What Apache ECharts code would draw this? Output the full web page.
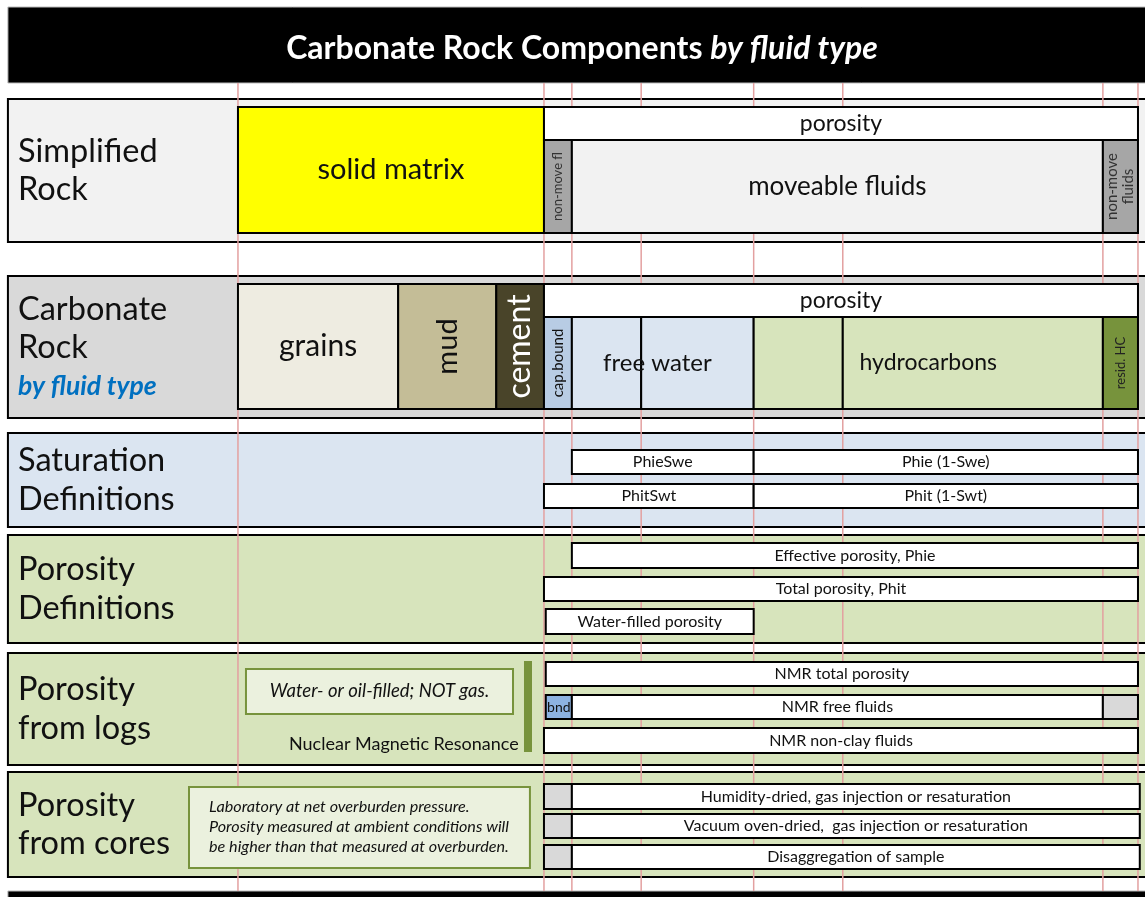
<!DOCTYPE html>
<html><head><meta charset="utf-8">
<script src="https://cdn.jsdelivr.net/npm/echarts@6/dist/echarts.min.js"></script>
<style>html,body{margin:0;padding:0;background:#fff}#c{width:1145px;height:897px}</style>
</head><body><div id="c"></div>
<script>
// ================= DATA =================
// Volume boundaries, % of bulk rock volume (pink guide lines)
const guideBoundaries = [0, 34, 37.1, 44.8, 57.3, 67.2, 96.1, 100];

const titleMain = 'Carbonate Rock Components';
const titleItalic = 'by fluid type';

const rowTitles = [
  ['Simplified', 'Rock'],
  ['Carbonate', 'Rock'],
  ['Saturation', 'Definitions'],
  ['Porosity', 'Definitions'],
  ['Porosity', 'from logs'],
  ['Porosity', 'from cores']
];
const rowSubtitle = 'by fluid type';

// [label, from %, to %, lane, kind]
const simplifiedRock = [
  ['solid matrix', 0, 34, 'r1full', 'matrix'],
  ['porosity', 34, 100, 'r1top', 'porosity'],
  ['non-move fl', 34, 37.1, 'r1bot', 'nonmove'],
  ['moveable fluids', 37.1, 96.1, 'r1bot', 'moveable'],
  ['non-move\nfluids', 96.1, 100, 'r1bot', 'nonmove2']
];
const carbonateRock = [
  ['grains', 0, 17.8, 'r2full', 'grains'],
  ['mud', 17.8, 28.7, 'r2full', 'mud'],
  ['cement', 28.7, 34, 'r2full', 'cement'],
  ['porosity', 34, 100, 'r2top', 'porosity'],
  ['cap.bound', 34, 37.1, 'r2bot', 'bound'],
  ['', 37.1, 44.8, 'r2bot', 'water'],
  ['', 44.8, 57.3, 'r2bot', 'water'],
  ['', 57.3, 67.2, 'r2bot', 'hydro'],
  ['', 67.2, 96.1, 'r2bot', 'hydro'],
  ['resid. HC', 96.1, 100, 'r2bot', 'resid']
];
// labels spanning several boxes: [label, from, to, lane]
const spanLabels = [
  ['free water', 36.5, 56.7, 'r2bot'],
  ['hydrocarbons', 57.3, 96.1, 'r2bot']
];
const saturationDefs = [
  ['PhieSwe', 37.1, 57.3, 'r3a', 'def'],
  ['Phie (1-Swe)', 57.3, 100, 'r3a', 'def'],
  ['PhitSwt', 34, 57.3, 'r3b', 'def'],
  ['Phit (1-Swt)', 57.3, 100, 'r3b', 'def']
];
const porosityDefs = [
  ['Effective porosity, Phie', 37.1, 100, 'r4a', 'def'],
  ['Total porosity, Phit', 34, 100, 'r4b', 'def'],
  ['Water-filled porosity', 34.2, 57.3, 'r4c', 'def']
];
const porosityLogs = [
  ['NMR total porosity', 34.2, 100, 'r5a', 'def'],
  ['bnd', 34.2, 37.1, 'r5b', 'bnd'],
  ['NMR free fluids', 37.1, 96.1, 'r5b', 'def'],
  ['', 96.1, 100, 'r5b', 'grey'],
  ['NMR non-clay fluids', 34, 100, 'r5c', 'def']
];
const porosityCores = [
  ['', 34, 37.1, 'r6a', 'grey'],
  ['Humidity-dried, gas injection or resaturation', 37.1, 100.2, 'r6a', 'def'],
  ['', 34, 37.1, 'r6b', 'grey'],
  ['Vacuum oven-dried,  gas injection or resaturation', 37.1, 100.2, 'r6b', 'def'],
  ['', 34, 37.1, 'r6c', 'grey'],
  ['Disaggregation of sample', 37.1, 100.2, 'r6c', 'def']
];
const logsNote = 'Water- or oil-filled; NOT gas.';
const logsCaption = 'Nuclear Magnetic Resonance';
const coresNote = ['Laboratory at net overburden pressure.',
  'Porosity measured at ambient conditions will',
  'be higher than that measured at overburden.'];

// ================= LAYOUT (vertical layout units, horizontal in % volume) =================
const lanes = {
  r1full: [107, 233], r1top: [107, 140], r1bot: [140, 233],
  r2full: [284, 409], r2top: [284, 317], r2bot: [317, 409],
  r3a: [450, 474], r3b: [484, 508],
  r4a: [543, 568], r4b: [577, 601], r4c: [609, 634],
  r5a: [662, 686], r5b: [695, 719], r5c: [728, 753],
  r6a: [784, 809], r6b: [814, 838], r6c: [845, 869]
};
const rowBands = [[99, 242], [276, 418], [433, 527], [535, 643], [653, 765], [772, 877]];
const rowFills = ['#f2f2f2', '#d9d9d9', '#dbe5f1', '#d7e4bc', '#d7e4bc', '#d7e4bc'];
const X_LEFT = -25.56, X_RIGHT = 103, X_TEXT = -24.44;
const titleBand = [7, 83], bottomBand = [891, 900];
const guideSpan = [83, 891];

const FONT = 'Lato, "Open Sans", sans-serif';
const kindStyle = {
  matrix: {fill: '#ffff00', size: 29},
  porosity: {fill: '#ffffff', size: 23},
  nonmove: {fill: '#a6a6a6', size: 13, rot: true, color: '#333'},
  nonmove2: {fill: '#a6a6a6', size: 15, rot: true, color: '#333', lh: 16},
  moveable: {fill: '#f2f2f2', size: 26},
  grains: {fill: '#eeece1', size: 30},
  mud: {fill: '#c4bd97', size: 29, rot: true},
  cement: {fill: '#494429', size: 32, rot: true, color: '#ffffff'},
  bound: {fill: '#b8cce4', size: 15, rot: true},
  water: {fill: '#dbe5f1'},
  hydro: {fill: '#d7e4bc'},
  resid: {fill: '#77933c', size: 13, rot: true, color: '#222'},
  def: {fill: '#ffffff', size: 16},
  bnd: {fill: '#8db3e2', size: 14},
  grey: {fill: '#d9d9d9'}
};
const spanSizes = [24, 23];

// ================= CHART =================
const chart = echarts.init(document.getElementById('c'), null, {renderer: 'canvas'});

function rectOf(api, x0, x1, y0, y1) {
  const a = api.coord([x0, y0]), b = api.coord([x1, y1]);
  return {x: a[0], y: a[1], width: b[0] - a[0], height: b[1] - a[1]};
}

function boxSeries(list, z) {
  return {
    type: 'custom', coordinateSystem: 'cartesian2d', z: z, silent: true,
    data: list.map(b => [b[1], b[2], lanes[b[3]][0], lanes[b[3]][1]]),
    renderItem: function (params, api) {
      const item = list[params.dataIndex];
      const st = kindStyle[item[4]];
      const r = rectOf(api, api.value(0), api.value(1), api.value(2), api.value(3));
      const ch = [{type: 'rect', shape: r, style: {fill: st.fill, stroke: '#000', lineWidth: 2}}];
      if (item[0]) {
        ch.push({type: 'text', x: r.x + r.width / 2, y: r.y + r.height / 2,
          rotation: st.rot ? Math.PI / 2 : 0,
          style: {text: item[0], fill: st.color || '#111', fontSize: st.size, fontFamily: FONT,
            align: 'center', verticalAlign: 'middle', lineHeight: st.lh || st.size * 1.2}});
      }
      return {type: 'group', children: ch};
    }
  };
}

const series = [];
// row bands
series.push({
  type: 'custom', z: 1, silent: true,
  data: rowBands.map(b => [X_LEFT, X_RIGHT, b[0], b[1]]),
  renderItem: function (params, api) {
    const r = rectOf(api, api.value(0), api.value(1), api.value(2), api.value(3));
    return {type: 'rect', shape: r, style: {fill: rowFills[params.dataIndex], stroke: '#000', lineWidth: 2}};
  }
});
// title & bottom bars
series.push({
  type: 'custom', z: 1, silent: true,
  data: [[X_LEFT, X_RIGHT, titleBand[0], titleBand[1]], [X_LEFT, X_RIGHT, bottomBand[0], bottomBand[1]]],
  renderItem: function (params, api) {
    const r = rectOf(api, api.value(0), api.value(1), api.value(2), api.value(3));
    return {type: 'rect', shape: r, style: {fill: '#000', stroke: '#bbb', lineWidth: 1}};
  }
});
// guide lines
series.push({
  type: 'custom', z: 2, silent: true,
  data: guideBoundaries.map(v => [v, guideSpan[0], guideSpan[1]]),
  renderItem: function (params, api) {
    const a = api.coord([api.value(0), api.value(1)]), b = api.coord([api.value(0), api.value(2)]);
    return {type: 'line', shape: {x1: a[0], y1: a[1], x2: b[0], y2: b[1]}, style: {stroke: '#e3a0a0', lineWidth: 1.5}};
  }
});
// row titles
series.push({
  type: 'custom', z: 3, silent: true,
  data: rowBands.map(b => [X_TEXT, (b[0] + b[1]) / 2]),
  renderItem: function (params, api) {
    const p = api.coord([api.value(0), api.value(1)]);
    const t = rowTitles[params.dataIndex];
    let text = t.map(s => '{t|' + s + '}').join('\n');
    if (params.dataIndex === 1) text += '\n{s|' + rowSubtitle + '}';
    return {type: 'text', x: p[0], y: p[1] + (params.dataIndex === 1 ? 1 : 0),
      style: {text: text, align: 'left', verticalAlign: 'middle',
        rich: {t: {fontSize: 32.5, fontFamily: FONT, fill: '#111', lineHeight: 38.5},
               s: {fontSize: 26.5, fontFamily: FONT, fontWeight: 'bold', fontStyle: 'italic', fill: '#0070c0', lineHeight: 38.5}}}};
  }
});
[simplifiedRock, carbonateRock, saturationDefs, porosityDefs, porosityLogs, porosityCores].forEach(l => series.push(boxSeries(l, 4)));
// span labels
series.push({
  type: 'custom', z: 5, silent: true,
  data: spanLabels.map(s => [s[1], s[2], lanes[s[3]][0], lanes[s[3]][1]]),
  renderItem: function (params, api) {
    const r = rectOf(api, api.value(0), api.value(1), api.value(2), api.value(3));
    return {type: 'text', x: r.x + r.width / 2, y: r.y + r.height / 2,
      style: {text: spanLabels[params.dataIndex][0], fill: '#111', fontSize: spanSizes[params.dataIndex], fontFamily: FONT, align: 'center', verticalAlign: 'middle'}};
  }
});
// notes
const noteLayout = {
  logsBox: [0.89, 30.56, 669, 714],
  logsCaption: [31.2, 744],
  logsBar: [31.78, 32.67, 661, 752],
  coresBox: [-5.44, 32.44, 787, 868],
  coresText: [-3.22, 807, 20]
};
series.push({
  type: 'custom', z: 4, silent: true,
  data: [[0]],
  renderItem: function (params, api) {
    const L = noteLayout;
    const lb = rectOf(api, L.logsBox[0], L.logsBox[1], L.logsBox[2], L.logsBox[3]);
    const bar = rectOf(api, L.logsBar[0], L.logsBar[1], L.logsBar[2], L.logsBar[3]);
    const cb = rectOf(api, L.coresBox[0], L.coresBox[1], L.coresBox[2], L.coresBox[3]);
    const cap = api.coord([L.logsCaption[0], L.logsCaption[1]]);
    const ct = api.coord([L.coresText[0], L.coresText[1]]);
    const ch = [
      {type: 'rect', shape: lb, style: {fill: '#ebf1de', stroke: '#77933c', lineWidth: 2}},
      {type: 'text', x: lb.x + lb.width / 2, y: lb.y + lb.height / 2,
        style: {text: logsNote, fontSize: 18.5, fontStyle: 'italic', fontFamily: FONT, fill: '#111', align: 'center', verticalAlign: 'middle'}},
      {type: 'rect', shape: bar, style: {fill: '#77933c'}},
      {type: 'text', x: cap[0], y: cap[1],
        style: {text: logsCaption, fontSize: 18, fontFamily: FONT, fill: '#111', align: 'right', verticalAlign: 'middle'}},
      {type: 'rect', shape: cb, style: {fill: '#ebf1de', stroke: '#77933c', lineWidth: 2}},
      {type: 'text', x: ct[0], y: ct[1] - L.coresText[2] / 2,
        style: {text: coresNote.join('\n'), fontSize: 16.2, fontStyle: 'italic', fontFamily: FONT, fill: '#111', align: 'left', verticalAlign: 'top', lineHeight: L.coresText[2]}}
    ];
    return {type: 'group', children: ch};
  }
});

chart.setOption({
  animation: false,
  backgroundColor: '#ffffff',
  title: {
    text: '{a|' + titleMain + ' }{b|' + titleItalic + '}',
    left: 577, top: 25, textAlign: 'center',
    textStyle: {rich: {
      a: {fontSize: 32, fontWeight: 'bold', fontFamily: FONT, color: '#fff', lineHeight: 38},
      b: {fontSize: 32, fontWeight: 'bold', fontStyle: 'italic', fontFamily: FONT, color: '#fff', lineHeight: 38}
    }}
  },
  grid: {left: 0, right: 0, top: 0, bottom: 0},
  xAxis: {type: 'value', min: -26.44, max: 100.78, show: false},
  yAxis: {type: 'value', min: 0, max: 897, inverse: true, show: false},
  series: series
});
</script></body></html>
